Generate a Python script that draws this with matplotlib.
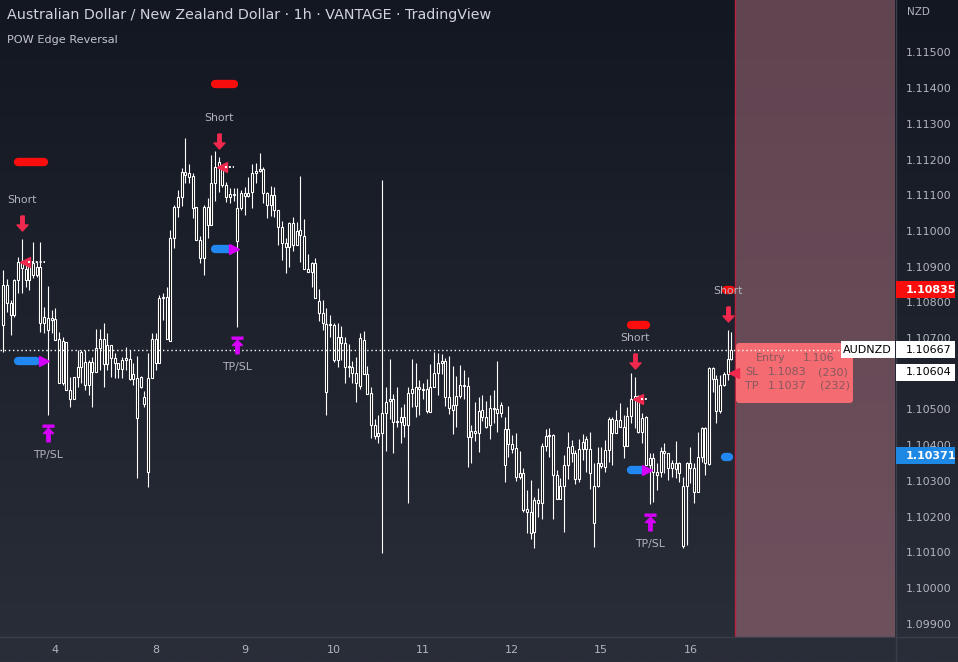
import numpy as np
import matplotlib
matplotlib.use("Agg")
import matplotlib.pyplot as plt
from matplotlib.path import Path
from matplotlib.patches import Rectangle, FancyBboxPatch
from matplotlib.lines import Line2D
from matplotlib.colors import LinearSegmentedColormap
from matplotlib.transforms import offset_copy

# ---- AUDNZD 1h candles (hollow candles: body top / bottom) ----
highs = [
    1.10891, 1.10865, 1.10807, 1.10865, 1.10928, 1.10977, 1.10919, 1.10921, 1.10970, 1.10914,
    1.10970, 1.10788, 1.10846, 1.10779, 1.10783, 1.10718, 1.10704, 1.10690, 1.10592, 1.10592,
    1.10667, 1.10667, 1.10667, 1.10639, 1.10648, 1.10725, 1.10725, 1.10743, 1.10715, 1.10681,
    1.10657, 1.10629, 1.10648, 1.10676, 1.10667, 1.10629, 1.10650, 1.10594, 1.10553, 1.10659,
    1.10713, 1.10715, 1.10821, 1.10827, 1.10842, 1.11003, 1.11073, 1.11115, 1.11176, 1.11260,
    1.11188, 1.11163, 1.11066, 1.10986, 1.11073, 1.11092, 1.11213, 1.11225, 1.11206, 1.11185,
    1.11138, 1.11120, 1.11120, 1.11120, 1.11115, 1.11124, 1.11152, 1.11188, 1.11191, 1.11219,
    1.11178, 1.11110, 1.11126, 1.11124, 1.11059, 1.11029, 1.10980, 1.11026, 1.11038, 1.11026,
    1.11154, 1.11033, 1.10936, 1.10914, 1.10923, 1.10837, 1.10807, 1.10783, 1.10765, 1.10743,
    1.10741, 1.10734, 1.10702, 1.10683, 1.10637, 1.10646, 1.10714, 1.10720, 1.10622, 1.10564,
    1.10473, 1.10485, 1.11143, 1.10562, 1.10641, 1.10543, 1.10562, 1.10506, 1.10515, 1.10562,
    1.10641, 1.10629, 1.10583, 1.10573, 1.10585, 1.10627, 1.10662, 1.10659, 1.10655, 1.10643,
    1.10650, 1.10622, 1.10594, 1.10625, 1.10611, 1.10590, 1.10457, 1.10522, 1.10534, 1.10541,
    1.10525, 1.10541, 1.10555, 1.10637, 1.10522, 1.10478, 1.10510, 1.10429, 1.10435, 1.10385,
    1.10335, 1.10274, 1.10302, 1.10256, 1.10279, 1.10405, 1.10445, 1.10447, 1.10431, 1.10331,
    1.10307, 1.10373, 1.10437, 1.10415, 1.10387, 1.10417, 1.10431, 1.10426, 1.10438, 1.10351,
    1.10396, 1.10396, 1.10415, 1.10480, 1.10478, 1.10499, 1.10519, 1.10485, 1.10508, 1.10601,
    1.10592, 1.10541, 1.10489, 1.10482, 1.10377, 1.10377, 1.10351, 1.10396, 1.10407, 1.10379,
    1.10359, 1.10413, 1.10354, 1.10312, 1.10354, 1.10396, 1.10349, 1.10438, 1.10452, 1.10452,
    1.10618, 1.10618, 1.10597, 1.10597, 1.10606, 1.10723, 1.10718,
]
lows = [
    1.10662, 1.10774, 1.10709, 1.10760, 1.10825, 1.10825, 1.10844, 1.10835, 1.10867, 1.10872,
    1.10718, 1.10713, 1.10485, 1.10713, 1.10695, 1.10573, 1.10569, 1.10555, 1.10508, 1.10529,
    1.10564, 1.10573, 1.10555, 1.10541, 1.10508, 1.10606, 1.10611, 1.10564, 1.10611, 1.10592,
    1.10587, 1.10587, 1.10587, 1.10611, 1.10583, 1.10569, 1.10307, 1.10559, 1.10506, 1.10282,
    1.10587, 1.10611, 1.10629, 1.10751, 1.10697, 1.10693, 1.10951, 1.11040, 1.11070, 1.11134,
    1.11135, 1.11036, 1.10975, 1.10909, 1.10877, 1.10980, 1.11017, 1.11085, 1.11110, 1.11124,
    1.11082, 1.11078, 1.11085, 1.10732, 1.11059, 1.11045, 1.11096, 1.11065, 1.11134, 1.11166,
    1.11078, 1.11036, 1.11042, 1.11040, 1.10961, 1.10919, 1.10883, 1.10900, 1.10945, 1.10961,
    1.10914, 1.10893, 1.10886, 1.10842, 1.10811, 1.10749, 1.10723, 1.10485, 1.10702, 1.10634,
    1.10618, 1.10639, 1.10575, 1.10592, 1.10573, 1.10522, 1.10557, 1.10598, 1.10543, 1.10419,
    1.10417, 1.10407, 1.10097, 1.10385, 1.10473, 1.10379, 1.10452, 1.10407, 1.10422, 1.10237,
    1.10508, 1.10480, 1.10485, 1.10529, 1.10489, 1.10494, 1.10562, 1.10541, 1.10599, 1.10510,
    1.10487, 1.10431, 1.10452, 1.10531, 1.10529, 1.10340, 1.10351, 1.10413, 1.10382, 1.10469,
    1.10447, 1.10417, 1.10461, 1.10438, 1.10480, 1.10298, 1.10368, 1.10377, 1.10301, 1.10304,
    1.10214, 1.10155, 1.10136, 1.10111, 1.10198, 1.10192, 1.10385, 1.10368, 1.10192, 1.10248,
    1.10248, 1.10158, 1.10304, 1.10354, 1.10291, 1.10298, 1.10359, 1.10326, 1.10276, 1.10116,
    1.10284, 1.10335, 1.10326, 1.10354, 1.10345, 1.10433, 1.10452, 1.10363, 1.10398, 1.10461,
    1.10447, 1.10435, 1.10405, 1.10345, 1.10235, 1.10242, 1.10274, 1.10312, 1.10321, 1.10302,
    1.10312, 1.10307, 1.10298, 1.10111, 1.10120, 1.10293, 1.10237, 1.10270, 1.10354, 1.10317,
    1.10345, 1.10550, 1.10463, 1.10489, 1.10566, 1.10583, 1.10639,
]
body_top = [
    1.10849, 1.10849, 1.10797, 1.10863, 1.10914, 1.10914, 1.10893, 1.10911, 1.10911, 1.10900,
    1.10900, 1.10760, 1.10755, 1.10755, 1.10753, 1.10697, 1.10693, 1.10690, 1.10555, 1.10592,
    1.10618, 1.10662, 1.10632, 1.10632, 1.10634, 1.10671, 1.10697, 1.10697, 1.10681, 1.10681,
    1.10643, 1.10629, 1.10639, 1.10643, 1.10641, 1.10599, 1.10587, 1.10592, 1.10536, 1.10587,
    1.10697, 1.10697, 1.10811, 1.10814, 1.10814, 1.10980, 1.11068, 1.11096, 1.11166, 1.11166,
    1.11162, 1.11154, 1.11066, 1.10975, 1.11068, 1.11068, 1.11135, 1.11178, 1.11194, 1.11178,
    1.11129, 1.11104, 1.11104, 1.11064, 1.11107, 1.11106, 1.11106, 1.11163, 1.11169, 1.11173,
    1.11173, 1.11107, 1.11101, 1.11101, 1.11059, 1.11010, 1.10967, 1.11023, 1.11022, 1.11001,
    1.11003, 1.10986, 1.10893, 1.10911, 1.10909, 1.10805, 1.10771, 1.10739, 1.10739, 1.10737,
    1.10704, 1.10704, 1.10685, 1.10622, 1.10620, 1.10601, 1.10699, 1.10696, 1.10599, 1.10545,
    1.10457, 1.10435, 1.10489, 1.10522, 1.10529, 1.10529, 1.10469, 1.10480, 1.10480, 1.10545,
    1.10557, 1.10564, 1.10562, 1.10557, 1.10557, 1.10562, 1.10601, 1.10631, 1.10637, 1.10637,
    1.10536, 1.10513, 1.10538, 1.10569, 1.10569, 1.10566, 1.10441, 1.10441, 1.10497, 1.10498,
    1.10480, 1.10503, 1.10503, 1.10501, 1.10513, 1.10445, 1.10445, 1.10403, 1.10391, 1.10323,
    1.10323, 1.10220, 1.10214, 1.10246, 1.10246, 1.10398, 1.10426, 1.10429, 1.10429, 1.10317,
    1.10286, 1.10345, 1.10394, 1.10398, 1.10377, 1.10389, 1.10410, 1.10417, 1.10389, 1.10286,
    1.10349, 1.10349, 1.10387, 1.10473, 1.10473, 1.10471, 1.10471, 1.10452, 1.10482, 1.10529,
    1.10538, 1.10538, 1.10475, 1.10480, 1.10363, 1.10363, 1.10326, 1.10385, 1.10385, 1.10377,
    1.10351, 1.10349, 1.10349, 1.10286, 1.10351, 1.10349, 1.10335, 1.10366, 1.10447, 1.10447,
    1.10615, 1.10615, 1.10585, 1.10569, 1.10599, 1.10641, 1.10667,
]
body_bot = [
    1.10737, 1.10797, 1.10765, 1.10765, 1.10863, 1.10895, 1.10863, 1.10863, 1.10877, 1.10877,
    1.10741, 1.10741, 1.10723, 1.10751, 1.10695, 1.10573, 1.10573, 1.10555, 1.10529, 1.10529,
    1.10592, 1.10618, 1.10569, 1.10569, 1.10606, 1.10606, 1.10671, 1.10627, 1.10627, 1.10643,
    1.10629, 1.10613, 1.10613, 1.10639, 1.10585, 1.10585, 1.10475, 1.10562, 1.10515, 1.10324,
    1.10587, 1.10629, 1.10629, 1.10811, 1.10697, 1.10693, 1.10980, 1.11068, 1.11096, 1.11157,
    1.11152, 1.11064, 1.10975, 1.10923, 1.10923, 1.11017, 1.11017, 1.11135, 1.11178, 1.11129,
    1.11094, 1.11094, 1.11101, 1.10973, 1.11064, 1.11098, 1.11098, 1.11108, 1.11163, 1.11169,
    1.11106, 1.11073, 1.11073, 1.11059, 1.11010, 1.10967, 1.10954, 1.10954, 1.10961, 1.10961,
    1.10989, 1.10893, 1.10886, 1.10886, 1.10811, 1.10769, 1.10743, 1.10550, 1.10737, 1.10639,
    1.10639, 1.10685, 1.10620, 1.10620, 1.10601, 1.10573, 1.10567, 1.10599, 1.10543, 1.10457,
    1.10426, 1.10426, 1.10435, 1.10489, 1.10525, 1.10466, 1.10466, 1.10466, 1.10457, 1.10457,
    1.10545, 1.10510, 1.10557, 1.10555, 1.10497, 1.10494, 1.10562, 1.10601, 1.10631, 1.10536,
    1.10503, 1.10499, 1.10513, 1.10538, 1.10566, 1.10424, 1.10424, 1.10433, 1.10433, 1.10478,
    1.10452, 1.10457, 1.10501, 1.10491, 1.10491, 1.10345, 1.10403, 1.10389, 1.10312, 1.10312,
    1.10218, 1.10214, 1.10155, 1.10158, 1.10239, 1.10239, 1.10398, 1.10426, 1.10317, 1.10248,
    1.10248, 1.10286, 1.10345, 1.10377, 1.10304, 1.10304, 1.10389, 1.10389, 1.10321, 1.10181,
    1.10286, 1.10342, 1.10340, 1.10387, 1.10435, 1.10435, 1.10452, 1.10398, 1.10398, 1.10482,
    1.10529, 1.10438, 1.10438, 1.10345, 1.10345, 1.10326, 1.10317, 1.10326, 1.10377, 1.10335,
    1.10335, 1.10332, 1.10321, 1.10118, 1.10286, 1.10335, 1.10270, 1.10270, 1.10366, 1.10349,
    1.10347, 1.10585, 1.10497, 1.10497, 1.10569, 1.10599, 1.10641,
]

day_labels = ["4", "8", "9", "10", "11", "12", "15", "16"]
day_bars = [14, 41, 65, 89, 113, 137, 161, 185]
price_ticks = [1.099, 1.100, 1.101, 1.102, 1.103, 1.104, 1.105, 1.106, 1.107,
               1.108, 1.109, 1.110, 1.111, 1.112, 1.113, 1.114, 1.115]

last_price = 1.10667
entry_price = 1.10604
sl_price = 1.10835
tp_price = 1.10371

# POW Edge Reversal signals
short_bars = [5, 58, 170, 195]
tpsl_bars = [12, 63, 174]
entry_bars = [5, 58, 170, 196]
entry_levels = [1.10913, 1.11179, 1.10529, 1.10602]
zone_end = [11, 62, 173, 196]
sl_start = [4, 57, 169, 194.6]
sl_end = [11, 62, 173, 195.8]
sl_levels = [1.11193, 1.11412, 1.10737, 1.10835]
tp_start = [4, 57, 169, 194.3]
tp_end = [8.8, 60.5, 171.7, 195.4]
tp_levels = [1.10636, 1.10950, 1.10331, 1.10367]
hit_bars = [11, 62, 173.3]

# ---- style ----
W, H = 958, 662
BG_TOP, BG_BOT = "#131722", "#2a2e39"
TXT = "#b2b5be"
RED_SIG = "#f2294e"
RED_PILL = "#fa0d0d"
BLUE = "#2088f0"
MAGENTA = "#d500f9"
SEP = "#3a3e4a"

fig = plt.figure(figsize=(W / 100, H / 100), dpi=100)
fig.patch.set_facecolor(BG_BOT)

bg = fig.add_axes([0, 0, 1, 1])
bg.axis("off")
cmap = LinearSegmentedColormap.from_list("tv", [BG_TOP, BG_BOT])
bg.imshow(np.linspace(0, 1, 256).reshape(-1, 1), aspect="auto", cmap=cmap,
          extent=[0, 1, 0, 1], origin="upper")

ax = fig.add_axes([0, 25 / H, 895 / W, 637 / H])
ax.patch.set_visible(False)
for s in ax.spines.values():
    s.set_visible(False)
ax.set_xlim(-0.89, 240.09)
ax.set_ylim(1.098627, 1.116470)

# ticks (1.10600 sits under the entry tag, so it is left blank)
ax.yaxis.tick_right()
ax.set_yticks(price_ticks)
ax.set_yticklabels(["" if abs(p - entry_price) < 0.0001 else f"{p:.5f}" for p in price_ticks])
ax.set_xticks(day_bars)
ax.set_xticklabels(day_labels)
ax.tick_params(axis="y", length=0, pad=8, labelsize=8, labelcolor=TXT)
ax.tick_params(axis="x", length=0, pad=6, labelsize=8, labelcolor=TXT)

# future / trade zone shading
n = len(highs)
ax.axvspan(197.0, 241, color="#d48896", alpha=0.4, lw=0, zorder=1)
ax.axvline(197.0, color="#b8233f", lw=1.0, zorder=1.5)

# candles
x = np.arange(n)
ax.vlines(x, lows, highs, color="white", lw=0.8, zorder=2)
ax.bar(x, np.array(body_top) - np.array(body_bot), bottom=body_bot, width=0.55,
       color="black", edgecolor="white", linewidth=0.8, zorder=3)

# markers
down_arrow = Path([(-0.23, 1), (0.23, 1), (0.23, -0.2), (0.73, -0.2), (0, -1),
                   (-0.73, -0.2), (-0.23, -0.2), (-0.23, 1)])
verts = [(-0.65, 1), (0.65, 1), (0.65, 0.76), (-0.65, 0.76), (-0.65, 1),
         (0, 0.64), (0.6, 0.0), (0.2, 0.0), (0.2, -1), (-0.2, -1), (-0.2, 0.0),
         (-0.6, 0.0), (0, 0.64)]
codes = [Path.MOVETO] + [Path.LINETO] * 3 + [Path.CLOSEPOLY] + \
        [Path.MOVETO] + [Path.LINETO] * 6 + [Path.CLOSEPOLY]
tpsl_arrow = Path(verts, codes)

for s0, s1, lv in zip(sl_start, sl_end, sl_levels):
    ax.plot([s0, s1], [lv, lv], color=RED_PILL, lw=6, solid_capstyle="round", zorder=6)
for s0, s1, lv in zip(tp_start, tp_end, tp_levels):
    ax.plot([s0, s1], [lv, lv], color=BLUE, lw=6, solid_capstyle="round", zorder=6)
ax.plot(hit_bars, tp_levels[:len(hit_bars)], ls="none", marker=">", ms=6.5,
        color=MAGENTA, zorder=7)

for b in short_bars:
    tr_a = offset_copy(ax.transData, fig=fig, y=16, units="dots")
    tr_t = offset_copy(ax.transData, fig=fig, y=39, units="dots")
    ax.plot([b], [highs[b]], marker=down_arrow, ms=10.8, color=RED_SIG, ls="none",
            transform=tr_a, zorder=7)
    ax.text(b, highs[b], "Short", transform=tr_t, ha="center", va="center",
            fontsize=7.8, color=TXT, zorder=8)

for b in tpsl_bars:
    tr_a = offset_copy(ax.transData, fig=fig, y=-18, units="dots")
    tr_t = offset_copy(ax.transData, fig=fig, y=-40, units="dots")
    ax.plot([b], [lows[b]], marker=tpsl_arrow, ms=12, color=MAGENTA, ls="none",
            transform=tr_a, zorder=7)
    ax.text(b, lows[b], "TP/SL", transform=tr_t, ha="center", va="center",
            fontsize=7.8, color=TXT, zorder=8)

for b, lv, e in zip(entry_bars, entry_levels, zone_end):
    ax.plot([b + 0.8], [lv], marker="<", ms=7, color=RED_SIG, ls="none", zorder=7)
    if e + 0.2 > b + 1.7:
        ax.plot([b + 1.7, e + 0.2], [lv, lv], color="white", lw=1.4,
                ls=(0, (1, 1)), zorder=7)

# trade box
def px(xp, yp):
    return xp / 895, 1 - yp / 637

box = FancyBboxPatch(px(736, 403), 117 / 895, 60 / 637, transform=ax.transAxes,
                     boxstyle="round,pad=0,rounding_size=0.004", mutation_aspect=895 / 637,
                     fc="#f46c72", ec="none", zorder=5)
ax.add_patch(box)
box_txt = "#86585e"
rows = [
    (358, [(756, "Entry"), (803, f"{entry_price:.3f}")]),
    (372, [(745, "SL"), (768, f"{sl_price:.4f}"), (818, "(230)")]),
    (386, [(745, "TP"), (768, f"{tp_price:.4f}"), (820, "(232)")]),
]
for yp, items in rows:
    for xp, t in items:
        ax.text(*px(xp, yp), t, transform=ax.transAxes, ha="left", va="center",
                fontsize=8, color=box_txt, zorder=6)

# last price line
ax.axhline(last_price, color="white", lw=1.0, ls=(0, (1, 2)), zorder=6)

# separators
fig.add_artist(Line2D([0, 1], [25 / H, 25 / H], color=SEP, lw=1, transform=fig.transFigure))
fig.add_artist(Line2D([895.5 / W, 895.5 / W], [0, 1], color=SEP, lw=1, transform=fig.transFigure))

# price tags on the right scale
def tag(price, text, fc, tc, x0=896, x1=955, bold=False, tx=906, ha="left"):
    yd = ax.transData.transform((0, price))[1]
    fig.add_artist(Rectangle((x0 / W, (yd - 8.5) / H), (x1 - x0) / W, 17 / H,
                             transform=fig.transFigure, fc=fc, ec="none", zorder=5))
    fig.text(tx / W, yd / H, text, ha=ha, va="center", fontsize=8, color=tc,
             fontweight="bold" if bold else "normal", zorder=6)

tag(sl_price, f"{sl_price:.5f}", "#f90e0e", "white", bold=True)
tag(last_price, f"{last_price:.5f}", "white", "black")
tag(entry_price, f"{entry_price:.5f}", "white", "black")
tag(tp_price, f"{tp_price:.5f}", "#1e88e5", "white", bold=True)
tag(last_price, "AUDNZD", "white", "black", x0=841, x1=894.5, tx=867.5, ha="center")

fig.text(907 / W, 1 - 12 / H, "NZD", ha="left", va="center", fontsize=7.5, color=TXT)
fig.text(7 / W, 1 - 15 / H, "Australian Dollar / New Zealand Dollar · 1h · VANTAGE · TradingView",
         ha="left", va="center", fontsize=10.3, color="#d1d4dc")
fig.text(7 / W, 1 - 40 / H, "POW Edge Reversal", ha="left", va="center",
         fontsize=8.1, color="#c3c6ce")

fig.savefig("out.png", dpi=100, facecolor=fig.get_facecolor())
